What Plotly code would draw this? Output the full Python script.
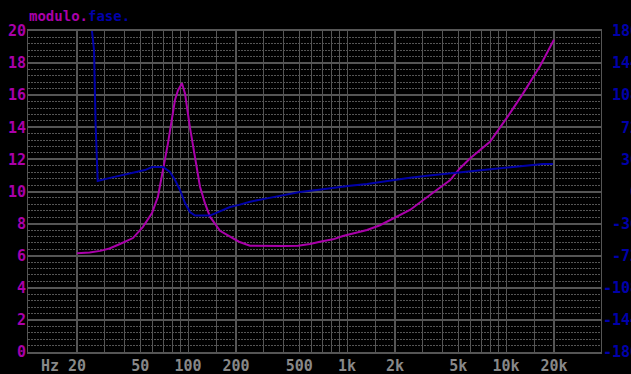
import plotly.graph_objects as go

# ---- data ----
mag_freq = [20, 24, 28, 32, 37.3, 45, 52, 59.3, 64.6, 69.5, 74.7, 82.7, 86.3, 91.5,
            95.6, 102.7, 110.5, 118.8, 127.7, 137.3, 158.7, 183.4, 208.9, 245, 300,
            400, 491, 584, 675, 815, 942, 1121, 1334, 1610, 1860, 2486, 3320, 4434,
            5128, 6000, 7918, 10126, 12768, 16326, 20000]
mag_vals = [6.15, 6.2, 6.3, 6.45, 6.73, 7.1, 7.8, 8.66, 9.68, 11.34, 13.0, 15.7, 16.3, 16.74,
            16.1, 14.0, 12.2, 10.3, 9.26, 8.43, 7.55, 7.18, 6.87, 6.62, 6.6,
            6.6, 6.62, 6.73, 6.87, 7.02, 7.23, 7.4, 7.6, 7.9, 8.22, 8.85, 9.78, 10.7,
            11.45, 12.1, 13.1, 14.6, 16.1, 17.8, 19.46]

phase_freq = [24.85, 25.6, 26.2, 26.6, 27.0, 31.8, 36.7, 45, 53.5, 59.3, 69.5, 76.9, 82.7,
              88.9, 95.6, 102.7, 110.5, 137.3, 158.7, 183.4, 208.9, 245, 313, 395, 505,
              646, 815, 1042, 1334, 1610, 1860, 2486, 3180, 4246, 5354, 6846, 9150,
              12228, 17052, 19712]
phase_vals = [180, 158.7, 74.6, 33, 11.8, 15, 17.4, 21, 24, 27.5, 27.5, 22, 13,
              1.7, -13, -23, -27, -27, -22.6, -17.4, -15, -11.4, -7.7, -3.9, -0.6,
              1.7, 4.3, 6.5, 8.4, 10.6, 12.9, 15.5, 17.7, 20, 21.9, 24.1, 26.4,
              28.9, 30.8, 30.8]

x_label_vals = [20, 50, 100, 200, 500, 1000, 2000, 5000, 10000, 20000]
x_label_text = ["20", "50", "100", "200", "500", "1k", "2k", "5k", "10k", "20k"]
x_thick_vals = [20, 200, 2000, 20000]
x_thin_vals = [20, 30, 40, 50, 60, 70, 80, 90, 100, 150, 200, 300, 400, 500, 600, 700,
               800, 900, 1000, 1500, 2000, 3000, 4000, 5000, 6000, 7000, 8000, 9000,
               10000, 15000, 20000]
y_left_vals = [0, 2, 4, 6, 8, 10, 12, 14, 16, 18, 20]
y_left_text = ["0", "2", "4", "6", "8", "10", "12", "14", "16", "18", "20"]
y_right_vals = [-180, -144, -108, -72, -36, 0, 36, 72, 108, 144, 180]
y_right_text = ["-180", "-144", "-108", "\u00a0-72", "\u00a0-36", "\u00a0\u00a0\u00a00",
                "\u00a0\u00a036", "\u00a0\u00a072", "\u00a0108", "\u00a0144", "\u00a0180"]

MAG = "#AA00AA"
BLU = "#0000AA"
GRID = "#555555"
LBL = "#888888"
FONT = "DejaVu Sans Mono"

fig = go.Figure()
fig.add_trace(go.Scatter(x=mag_freq, y=mag_vals, mode="lines",
                         line=dict(color=MAG, width=2), xaxis="x", yaxis="y"))
fig.add_trace(go.Scatter(x=phase_freq, y=phase_vals, mode="lines",
                         line=dict(color=BLU, width=2), xaxis="x2", yaxis="y2"))

xr = [0.993, 4.597]
fig.update_layout(
    width=631, height=374,
    margin=dict(l=28, r=30, t=31, b=22, autoexpand=False),
    paper_bgcolor="black", plot_bgcolor="black",
    showlegend=False,
    xaxis=dict(type="log", range=xr, tickvals=x_label_vals, ticktext=x_label_text,
               showgrid=True, gridcolor=GRID, gridwidth=1, zeroline=False,
               ticks="", ticklabelstandoff=-1, automargin=False,
               tickfont=dict(family=FONT, size=15, color=LBL, weight="bold"),
               minor=dict(tickvals=x_thin_vals, showgrid=True, gridcolor=GRID, gridwidth=1),
               showline=True, linecolor=GRID, linewidth=2, mirror=True),
    xaxis2=dict(type="log", range=xr, overlaying="x", anchor="y", side="bottom",
                tickvals=x_thick_vals, showticklabels=False, ticks="", automargin=False,
                showgrid=True, gridcolor=GRID, gridwidth=2, zeroline=False),
    yaxis=dict(range=[0, 20], tickvals=y_left_vals, ticktext=y_left_text,
               showgrid=True, gridcolor=GRID, gridwidth=2, zeroline=False,
               ticks="", ticklabelstandoff=-2, automargin=False,
               tickfont=dict(family=FONT, size=15, color=MAG, weight="bold"),
               minor=dict(dtick=0.4, showgrid=True, gridcolor=GRID, gridwidth=1,
                          griddash="2px,1px"),
               showline=True, linecolor=GRID, linewidth=1, mirror=True),
    yaxis2=dict(range=[-180, 180], overlaying="y", side="right", anchor="x",
                tickvals=y_right_vals, ticktext=y_right_text, automargin=False,
                showgrid=False, zeroline=False, ticks="", ticklabelstandoff=1,
                tickfont=dict(family=FONT, size=15, color=BLU, weight="bold")),
)

fig.add_annotation(xref="paper", yref="paper", x=(50 - 28) / 573, y=(352 - 366) / 321,
                   text="Hz", showarrow=False, xanchor="center", yanchor="middle",
                   font=dict(family=FONT, size=15, color=LBL, weight="bold"))
fig.add_annotation(xref="paper", yref="paper", x=-0.002, y=(352 - 16) / 321,
                   text=f"<span style='color:{MAG}'>modulo.</span><span style='color:{BLU}'>fase.</span>",
                   showarrow=False, xanchor="left", yanchor="middle",
                   font=dict(family=FONT, size=14, color=MAG, weight="bold"))

fig.write_html("out.html", config={"displayModeBar": False},
               post_script="document.body.style.margin='0';document.body.style.background='black';"
                           "document.body.style.overflow='hidden';")
